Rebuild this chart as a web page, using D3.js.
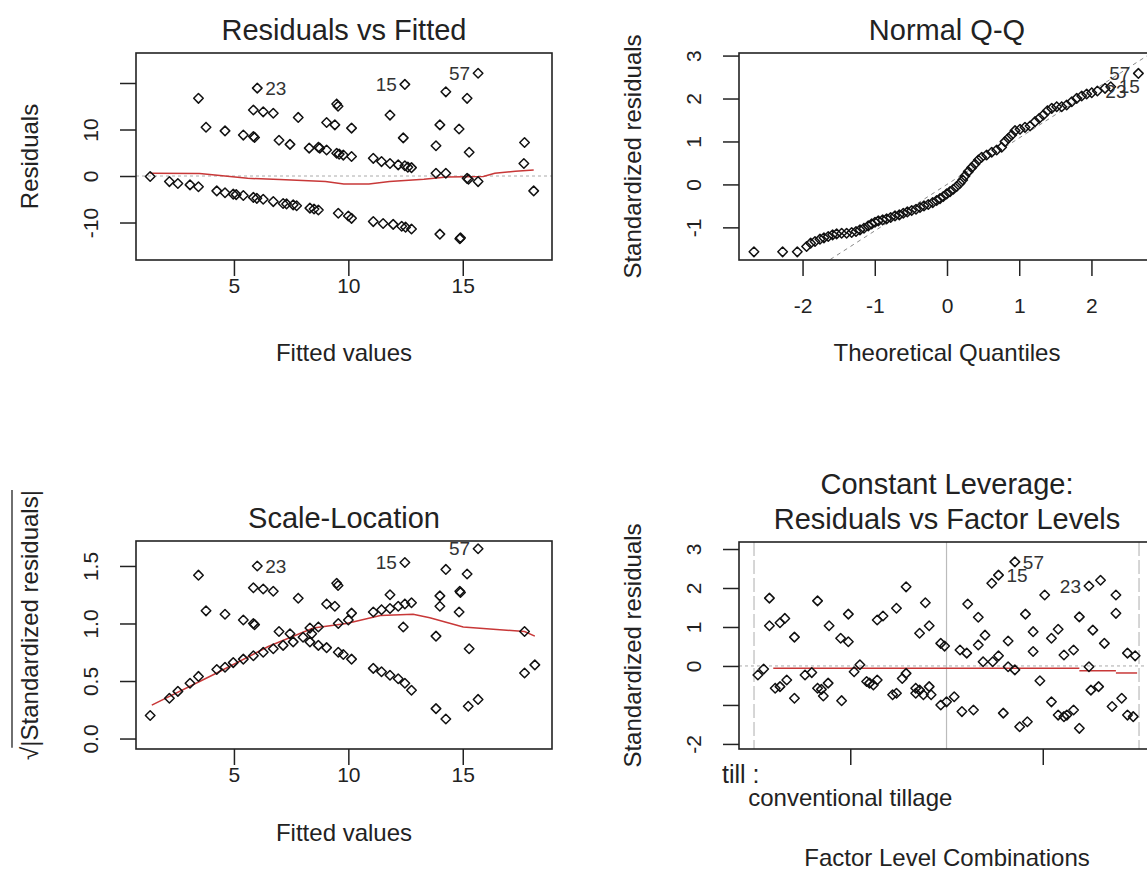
<!DOCTYPE html>
<html>
<head>
<meta charset="utf-8">
<script src="https://cdn.jsdelivr.net/npm/d3@7"></script>
<style>
  body { margin: 0; background: #fff; }
  svg text { font-family: "Liberation Sans", Arial, sans-serif; fill: #222; }
</style>
</head>
<body>
<script>
//// DATA ////

// Residuals vs Fitted
var rvfFitted = [3.45, 3.78, 4.61, 5.41, 5.85, 5.9, 6.02, 5.85, 6.28, 6.72, 6.97, 7.45, 7.81, 8.29, 8.69, 8.75, 9.05, 9.49, 9.6, 9.78,
  10.14, 9.05, 9.41, 9.49, 9.55, 10.14, 11.09, 11.45, 11.82, 12.18, 12.47, 12.6, 12.76, 11.82, 12.4, 12.47, 13.83, 14.0, 14.26, 13.83,
  14.26, 14.84, 15.19, 15.67, 15.28, 15.19, 15.25, 15.67, 17.7, 17.67, 18.1,
  1.34, 2.18, 2.55, 3.08, 3.45, 4.25, 4.61, 4.97, 5.1, 5.41, 5.85, 6.0, 6.28, 6.72, 7.15, 7.3, 7.59, 7.74, 8.32, 8.5,
  8.69, 9.56, 10.0, 10.14, 11.09, 11.52, 11.96, 12.33, 12.5, 12.76, 14.0, 14.87, 14.9];
var rvfResid = [16.7, 10.5, 9.7, 8.8, 8.5, 8.3, 18.9, 14.2, 13.8, 13.5, 7.7, 6.8, 12.6, 6.0, 6.2, 6.0, 5.6, 4.9, 4.7, 4.5,
  4.2, 11.5, 11.0, 15.5, 15.0, 10.3, 3.8, 3.1, 2.7, 2.4, 2.2, 1.9, 1.8, 13.1, 8.2, 19.7, 6.5, 11.0, 18.1, 0.6,
  0.6, 10.1, 16.7, 22.1, 5.1, -0.5, -0.7, -1.2, 7.2, 2.7, -3.2,
  -0.1, -1.2, -1.6, -1.9, -2.3, -3.2, -3.6, -3.9, -4.0, -4.2, -4.6, -4.8, -5.0, -5.5, -5.9, -6.0, -6.2, -6.4, -6.9, -7.1,
  -7.3, -8.0, -8.6, -9.1, -9.8, -10.2, -10.4, -10.8, -11.0, -11.4, -12.5, -13.5, -13.3];
var rvfSmoothX = [1.34, 3.5, 5.6, 7.0, 9.0, 9.8, 10.9, 11.8, 13.3, 14.3, 15.9, 16.4, 17.3, 18.1];
var rvfSmoothY = [0.6, 0.55, -0.5, -0.75, -1.2, -1.7, -1.7, -1.2, -0.7, -0.2, -0.1, 0.6, 1.0, 1.3];

// Normal Q-Q
var qqTheo = [-2.673, -2.276, -2.073, -1.944, -1.888, -1.828, -1.759, -1.704, -1.644, -1.584, -1.528, -1.459, -1.390, -1.320,
  -1.260, -1.205, -1.150, -1.090, -1.043, -0.997, -0.951, -0.891, -0.836, -0.780, -0.720, -0.660, -0.605, -0.549, -0.489,
  -0.429, -0.374, -0.319, -0.259, -0.198, -0.143, -0.097, -0.051, -0.005, 0.042, 0.088, 0.134, 0.180, 0.217, 0.249, 0.295,
  0.342, 0.388, 0.434, 0.480, 0.549, 0.619, 0.688, 0.757, 0.803, 0.849, 0.896, 0.942, 1.011, 1.080, 1.150, 1.219, 1.279,
  1.334, 1.390, 1.450, 1.519, 1.588, 1.657, 1.727, 1.796, 1.865, 1.934, 2.004, 2.082, 2.188, 2.267, 2.650];
var qqSample = [-1.570, -1.570, -1.570, -1.446, -1.368, -1.329, -1.275, -1.244, -1.213, -1.174, -1.151, -1.136, -1.136, -1.120,
  -1.097, -1.058, -1.019, -0.965, -0.919, -0.880, -0.849, -0.826, -0.802, -0.771, -0.733, -0.709, -0.671, -0.640, -0.609,
  -0.577, -0.539, -0.500, -0.469, -0.423, -0.376, -0.330, -0.283, -0.221, -0.167, -0.112, -0.050, 0.027, 0.105, 0.198, 0.298,
  0.391, 0.477, 0.570, 0.632, 0.686, 0.748, 0.802, 0.864, 0.996, 1.074, 1.151, 1.252, 1.283, 1.329, 1.360, 1.461, 1.539,
  1.616, 1.717, 1.771, 1.810, 1.810, 1.849, 1.926, 2.004, 2.058, 2.105, 2.136, 2.174, 2.237, 2.275, 2.585];
var qqLineX = [-3.2, 3.2];
var qqLineY = [-3.46, 3.46];

// Scale-Location
var slFitted = [3.45, 3.78, 4.61, 5.41, 5.85, 5.9, 6.02, 5.85, 6.28, 6.72, 6.97, 7.45, 7.81, 8.32, 8.69, 9.05, 9.41, 9.49, 9.55,
  9.56, 10.0, 10.14, 11.09, 11.45, 11.82, 12.18, 12.47, 12.76, 11.82, 12.4, 12.47, 13.83, 14.0, 14.0, 14.26, 14.84, 14.87, 14.9,
  15.19, 15.67, 15.28, 17.7,
  1.34, 2.18, 2.55, 3.08, 3.45, 4.25, 4.61, 4.97, 5.41, 5.85, 6.28, 6.72, 7.15, 7.59, 8.02, 8.4,
  8.32, 8.69, 9.05, 9.56, 9.78, 10.14, 11.09, 11.45, 11.82, 12.18, 12.47, 12.76, 13.83, 14.26, 15.24, 15.67, 17.7, 18.15];
var slRoot = [1.42, 1.11, 1.08, 1.03, 1.00, 0.99, 1.50, 1.31, 1.30, 1.28, 0.93, 0.91, 1.22, 0.96, 0.97, 1.17, 1.15, 1.35, 1.33,
  1.00, 1.03, 1.09, 1.10, 1.12, 1.13, 1.15, 1.17, 1.18, 1.25, 0.97, 1.53, 0.89, 1.24, 1.15, 1.47, 1.10, 1.28, 1.27,
  1.43, 1.65, 0.78, 0.93,
  0.20, 0.35, 0.41, 0.48, 0.54, 0.60, 0.62, 0.66, 0.69, 0.72, 0.75, 0.78, 0.81, 0.84, 0.88, 0.91,
  0.84, 0.81, 0.79, 0.75, 0.73, 0.69, 0.61, 0.58, 0.55, 0.52, 0.48, 0.42, 0.26, 0.17, 0.28, 0.34, 0.57, 0.64];
var slSmoothX = [1.41, 4.25, 6.5, 8.47, 9.92, 11.4, 12.83, 13.56, 15.02, 17.7, 18.15];
var slSmoothY = [0.29, 0.57, 0.80, 0.96, 1.00, 1.07, 1.08, 1.05, 0.97, 0.93, 0.89];

// Constant Leverage: Residuals vs Factor Levels
var lvlPos = [0.02, 0.05, 0.08, 0.08, 0.135, 0.16, 0.21, 0.11, 0.135, 0.17, 0.21, 0.265, 0.30, 0.33, 0.39, 0.33, 0.35, 0.385,
  0.36, 0.455, 0.45, 0.49, 0.49, 0.52, 0.55, 0.585, 0.60, 0.62, 0.64, 0.64, 0.67, 0.74, 0.72, 0.74, 0.77, 0.79, 0.79, 0.86,
  0.91, 0.89, 0.84, 0.86, 0.91, 0.84, 0.88, 0.92, 0.97, 0.99, 0.97, 1.0, 1.04, 1.07, 1.105, 1.08, 1.14, 1.11, 1.165, 1.165,
  1.20, 1.19, 1.235, 1.27, 1.24, 1.27, 1.295, 1.32, 1.355, 1.32, 1.355, 1.38, 1.42, 1.41, 1.45, 1.45, 1.485, 1.51, 1.545,
  1.58, 1.545, 1.58, 1.61, 1.625, 1.66, 1.61, 1.66, 1.69, 1.69, 1.74, 1.80, 1.74, 1.76, 1.82, 1.75, 1.79, 1.88, 1.88, 1.86,
  1.91, 1.94, 1.98, 1.94, 1.97];
var lvlStd = [-0.23, -0.08, 1.74, 1.03, 1.11, 1.22, 0.74, -0.57, -0.53, -0.36, -0.83, -0.23, -0.17, 1.67, 1.03, -0.57, -0.60, -0.44,
  -0.77, -0.89, 0.71, 0.62, 1.33, -0.15, 0.03, -0.40, -0.44, -0.49, -0.36, 1.18, 1.28, 1.48, -0.74, -0.70, -0.32, -0.19, 2.03, 0.84,
  1.03, 1.62, -0.57, -0.62, -0.53, -0.70, -0.74, -0.74, 0.58, 0.51, -1.0, -0.92, -0.79, 0.41, 0.33, -1.17, -1.13, 1.59, 1.25, 0.54,
  0.79, 0.11, 2.12, 2.33, 0.11, 0.26, -1.21, 0.64, 2.67, -0.02, -0.10, -1.56, -1.43, 1.33, 0.88, 0.37, -0.38, 1.82, 0.71,
  0.94, -0.92, -1.26, -1.30, -1.26, -1.13, 0.28, 0.41, 1.26, -1.6, 2.05, 2.20, -0.02, 0.92, 0.58, -0.62, -0.53, 1.82, 1.35, -1.04,
  -0.83, 0.33, 0.26, -1.26, -1.30];
var lvlMeanFrom = [0.1, 1.69, 1.88];
var lvlMeanTo = [1.69, 1.88, 1.99];
var lvlMean = [-0.06, -0.12, -0.18];
var lvlBounds = [0, 1, 2];
var lvlTicks = [0.5, 1.5];

// labelled observations
var idNames = ["23", "15", "57"];
var rvfIdX = [6.02, 12.47, 15.67], rvfIdY = [18.9, 19.7, 22.1];
var qqIdX = [2.082, 2.267, 2.650], qqIdY = [2.174, 2.275, 2.585];
var slIdX = [6.02, 12.47, 15.67], slIdY = [1.50, 1.53, 1.65];
var lvlIdX = [1.74, 1.27, 1.355], lvlIdY = [2.05, 2.33, 2.67];

//// SET UP ////

var svgWidth = 1147;
var svgHeight = 871;
var red = "#c83838";

var svg = d3.select("body")
  .append("svg")
  .attr("width", svgWidth)
  .attr("height", svgHeight);

var boxes = {
  rvf: { x0: 136, x1: 552, y0: 53, y1: 260 },
  qq:  { x0: 739, x1: 1155, y0: 53, y1: 260 },
  sl:  { x0: 136, x1: 552, y0: 541, y1: 749 },
  lvl: { x0: 739, x1: 1155, y0: 542, y1: 749 }
};

// builds scales and a clipped group for one panel
function makePanel(id, box, xDomain, yDomain) {
  var x = d3.scaleLinear().domain(xDomain).range([box.x0, box.x1]);
  var y = d3.scaleLinear().domain(yDomain).range([box.y1, box.y0]);
  svg.append("clipPath").attr("id", id)
    .append("rect")
    .attr("x", box.x0).attr("y", box.y0)
    .attr("width", box.x1 - box.x0).attr("height", box.y1 - box.y0);
  var g = svg.append("g").attr("clip-path", `url(#${id})`);
  return { x: x, y: y, g: g, box: box };
}

// xLabY: distance from box bottom to the top of the x tick labels
function drawAxes(p, xTicks, xLabels, yTicks, yLabels, xLabY) {
  var bottomAxis = d3.axisBottom(p.x).tickValues(xTicks).tickSize(16)
    .tickFormat((d, i) => xLabels[i]);
  var gx = svg.append("g")
    .attr("transform", `translate(0, ${p.box.y1})`)
    .call(bottomAxis);
  gx.select(".domain").remove();
  gx.attr("font-size", 21).attr("font-family", null);
  gx.selectAll("line").attr("stroke", "#222").attr("stroke-width", 1.5);
  gx.selectAll("text").attr("y", xLabY).attr("dy", "0.71em");

  var leftAxis = d3.axisLeft(p.y).tickValues(yTicks).tickSize(16)
    .tickFormat((d, i) => yLabels[i]);
  var gy = svg.append("g")
    .attr("transform", `translate(${p.box.x0}, 0)`)
    .call(leftAxis);
  gy.select(".domain").remove();
  gy.attr("font-size", 21).attr("font-family", null);
  gy.selectAll("line").attr("stroke", "#222").attr("stroke-width", 1.5);
  gy.selectAll("text")
    .attr("transform", "rotate(-90)")
    .attr("x", 0)
    .attr("y", -45)
    .attr("dy", "0.35em")
    .attr("text-anchor", "middle");
}

function drawBox(p) {
  svg.append("rect")
    .attr("x", p.box.x0).attr("y", p.box.y0)
    .attr("width", p.box.x1 - p.box.x0).attr("height", p.box.y1 - p.box.y0)
    .attr("fill", "none").attr("stroke", "#222").attr("stroke-width", 1.6);
}

function drawPoints(p, xs, ys) {
  p.g.selectAll(null)
    .data(xs)
    .enter()
    .append("path")
    .attr("d", d3.symbol(d3.symbolDiamond2, 58))
    .attr("transform", (d, i) => `translate(${p.x(d)}, ${p.y(ys[i])})`)
    .attr("fill", "none")
    .attr("stroke", "#111")
    .attr("stroke-width", 1.5)
    .attr("stroke-linejoin", "round");
}

function drawLine(p, xs, ys, color, dash, width) {
  var line = d3.line().x(d => p.x(d[0])).y(d => p.y(d[1]));
  p.g.append("path")
    .datum(xs.map((d, i) => [d, ys[i]]))
    .attr("d", line)
    .attr("fill", "none")
    .attr("stroke", color)
    .attr("stroke-width", width)
    .attr("stroke-dasharray", dash);
}

function zeroLine(p) {
  p.g.append("line")
    .attr("x1", p.box.x0).attr("x2", p.box.x1)
    .attr("y1", p.y(0)).attr("y2", p.y(0))
    .attr("stroke", "#aaa").attr("stroke-width", 1)
    .attr("stroke-dasharray", "3,3");
}

// labels: id placed on the right of its point when left of the middle of the shown points
function drawIds(p, xs, ys) {
  var mid = (d3.min(xs) + d3.max(xs)) / 2;
  svg.selectAll(null)
    .data(xs)
    .enter()
    .append("text")
    .attr("x", (d, i) => d > mid ? p.x(d) - 8 : p.x(d) + 8)
    .attr("y", (d, i) => p.y(ys[i]))
    .attr("dy", "0.35em")
    .attr("text-anchor", d => d > mid ? "end" : "start")
    .attr("font-size", 19)
    .style("fill", "#333")
    .text((d, i) => idNames[i]);
}

function title(p, lines) {
  var cx = (p.box.x0 + p.box.x1) / 2;
  lines.forEach(function(t, i) {
    svg.append("text")
      .attr("x", cx)
      .attr("y", p.box.y0 - 13 - (lines.length - 1 - i) * 35)
      .attr("text-anchor", "middle")
      .attr("font-size", 29)
      .text(t);
  });
}

function xTitle(p, t, y) {
  svg.append("text")
    .attr("x", (p.box.x0 + p.box.x1) / 2)
    .attr("y", y)
    .attr("text-anchor", "middle")
    .attr("font-size", 24)
    .text(t);
}

function yTitle(p, t, cx) {
  svg.append("text")
    .attr("transform", `translate(${cx}, ${(p.box.y0 + p.box.y1) / 2}) rotate(-90)`)
    .attr("dy", "0.35em")
    .attr("text-anchor", "middle")
    .attr("font-size", 24)
    .text(t);
}

//// PANEL 1: Residuals vs Fitted ////
var p1 = makePanel("clip1", boxes.rvf, [0.72, 18.9], [-18.06, 26.45]);
zeroLine(p1);
drawLine(p1, rvfSmoothX, rvfSmoothY, red, null, 1.5);
drawPoints(p1, rvfFitted, rvfResid);
drawBox(p1);
drawAxes(p1, [5, 10, 15], ["5", "10", "15"], [-10, 0, 10, 20], ["-10", "0", "10", ""], 18);
drawIds(p1, rvfIdX, rvfIdY);
title(p1, ["Residuals vs Fitted"]);
xTitle(p1, "Fitted values", 361);
yTitle(p1, "Residuals", 30);

//// PANEL 2: Normal Q-Q ////
var p2 = makePanel("clip2", boxes.qq, [-2.88, 2.88], [-1.76, 3.06]);
drawLine(p2, qqLineX, qqLineY, "#888", "4,4", 1);
drawPoints(p2, qqTheo, qqSample);
drawBox(p2);
drawAxes(p2, [-2, -1, 0, 1, 2], ["-2", "-1", "0", "1", "2"], [-1, 0, 1, 2, 3], ["-1", "0", "1", "2", "3"], 38);
drawIds(p2, qqIdX, qqIdY);
title(p2, ["Normal Q-Q"]);
xTitle(p2, "Theoretical Quantiles", 361);
yTitle(p2, "Standardized residuals", 633);

//// PANEL 3: Scale-Location ////
var p3 = makePanel("clip3", boxes.sl, [0.72, 18.9], [-0.091, 1.717]);
drawLine(p3, slSmoothX, slSmoothY, red, null, 1.5);
drawPoints(p3, slFitted, slRoot);
drawBox(p3);
drawAxes(p3, [5, 10, 15], ["5", "10", "15"], [0, 0.5, 1, 1.5], ["0.0", "0.5", "1.0", "1.5"], 18);
drawIds(p3, slIdX, slIdY);
title(p3, ["Scale-Location"]);
xTitle(p3, "Fitted values", 841);

// sqrt label with overbar
var slLab = svg.append("g")
  .attr("transform", "translate(30, 625) rotate(-90)");
var slText = slLab.append("text")
  .attr("dy", "0.35em")
  .attr("font-size", 24)
  .text("\u221A|Standardized residuals|");
var slLen = slText.node().getComputedTextLength();
var rootW = slText.node().getSubStringLength(0, 1);
slText.attr("x", -slLen / 2);
slLab.append("line")
  .attr("x1", -slLen / 2 + rootW - 1).attr("x2", slLen / 2)
  .attr("y1", -18).attr("y2", -18)
  .attr("stroke", "#222").attr("stroke-width", 1.3);

//// PANEL 4: Constant Leverage ////
var p4 = makePanel("clip4", boxes.lvl, [-0.078, 2.083], [-2.13, 3.18]);
p4.g.selectAll(null)
  .data(lvlBounds)
  .enter()
  .append("line")
  .attr("x1", d => p4.x(d)).attr("x2", d => p4.x(d))
  .attr("y1", p4.box.y0).attr("y2", p4.box.y1)
  .attr("stroke", "#bbb").attr("stroke-width", 1.2)
  .attr("stroke-dasharray", (d, i) => i === 1 ? null : "14,4");
zeroLine(p4);
p4.g.selectAll(null)
  .data(lvlMean)
  .enter()
  .append("line")
  .attr("x1", (d, i) => p4.x(lvlMeanFrom[i])).attr("x2", (d, i) => p4.x(lvlMeanTo[i]))
  .attr("y1", d => p4.y(d)).attr("y2", d => p4.y(d))
  .attr("stroke", red).attr("stroke-width", 1.5);
drawPoints(p4, lvlPos, lvlStd);
drawBox(p4);
drawAxes(p4, lvlTicks, ["", ""], [-2, -1, 0, 1, 2, 3], ["-2", "", "0", "1", "2", "3"], 38);
drawIds(p4, lvlIdX, lvlIdY);
title(p4, ["Constant Leverage:", "Residuals vs Factor Levels"]);
xTitle(p4, "Factor Level Combinations", 866);
yTitle(p4, "Standardized residuals", 633);

svg.append("text")
  .attr("x", 722).attr("y", 783)
  .attr("font-size", 25)
  .text("till :");
svg.append("text")
  .attr("x", p4.x(lvlTicks[0])).attr("y", 806)
  .attr("text-anchor", "middle")
  .attr("font-size", 24)
  .text("conventional tillage");
</script>
</body>
</html>
